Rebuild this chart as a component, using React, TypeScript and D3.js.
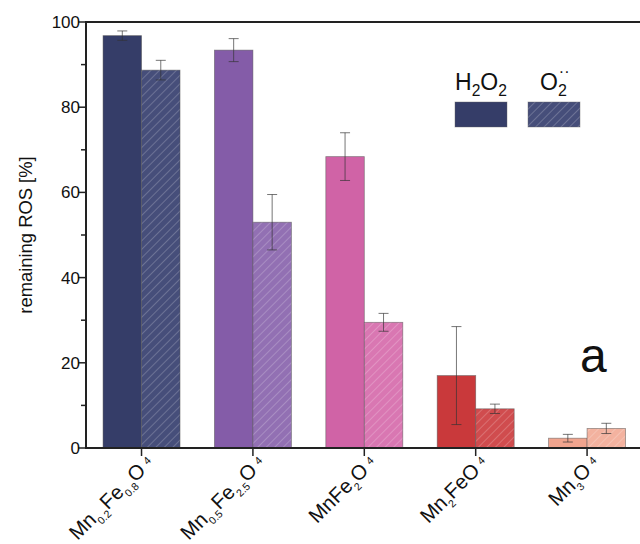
import React from 'react'
import * as d3 from 'd3'

// formula labels, split into [text, kind] pieces (kind: '' | 'sub' | 'sup')
const categories = ['Mn0.2Fe0.8O4', 'Mn0.5Fe2.5O4', 'MnFe2O4', 'Mn2FeO4', 'Mn3O4']
const labelParts: [string, string][][] = [
  [['Mn', ''], ['0.2', 'sub'], ['Fe', ''], ['0.8', 'sub'], ['O', ''], ['4', 'sup']],
  [['Mn', ''], ['0.5', 'sub'], ['Fe', ''], ['2.5', 'sub'], ['O', ''], ['4', 'sup']],
  [['MnFe', ''], ['2', 'sub'], ['O', ''], ['4', 'sup']],
  [['Mn', ''], ['2', 'sub'], ['FeO', ''], ['4', 'sup']],
  [['Mn', ''], ['3', 'sub'], ['O', ''], ['4', 'sup']],
]
const h2o2Values = [96.8, 93.4, 68.4, 17, 2.3]
const h2o2Errors = [1.1, 2.7, 5.6, 11.5, 0.9]
const superoxideValues = [88.7, 53, 29.5, 9.2, 4.6]
const superoxideErrors = [2.3, 6.5, 2.1, 1.1, 1.2]
const solidColors = ['#353d68', '#845ca8', '#d063a6', '#c9393b', '#f0a48e']
const hatchColors = ['#464e7a', '#9270b3', '#d977b2', '#d04c4e', '#f3b29f']
const yMajor = [0, 20, 40, 60, 80, 100]
const yMinor = [10, 30, 50, 70, 90]

const W = 640
const H = 544
const font = 'Liberation Sans, Arial, sans-serif'

function Formula({ parts, size, sub = 0.55 }: { parts: [string, string][]; size: number; sub?: number }) {
  return (
    <>
      {parts.map(([t, k], i) => {
        const prev = i > 0 ? parts[i - 1][1] : ''
        let dy = 0
        if (k === 'sub') dy = size * 0.28
        if (k === 'sup') dy = -size * 0.2
        if (prev === 'sub') dy -= size * 0.28
        if (prev === 'sup') dy += size * 0.2
        return (
          <tspan key={i} dy={dy} dx={k === 'sup' ? 5 : 0} fontSize={k ? size * sub : size}>{t}</tspan>
        )
      })}
    </>
  )
}

export default function App() {
  const left = 86
  const top = 22
  const bottom = 448
  const x = d3.scaleBand().domain(categories).range([left, 642.6]).paddingInner(0.309).paddingOuter(0.153)
  const y = d3.scaleLinear().domain([0, 100]).range([bottom, top])
  const bw = x.bandwidth() / 2

  const bars = categories.flatMap((c, i) => [
    { c, i, v: h2o2Values[i], e: h2o2Errors[i], x0: x(c)!, fill: solidColors[i] },
    { c, i, v: superoxideValues[i], e: superoxideErrors[i], x0: x(c)! + bw, fill: `url(#hatch${i})` },
  ])

  return (
    <svg width={W} height={H} style={{ position: 'absolute', left: 0, top: 0 }} fontFamily={font}>
      <defs>
        {hatchColors.map((col, i) => (
          <pattern key={i} id={`hatch${i}`} patternUnits="userSpaceOnUse" width={6} height={6} patternTransform="rotate(45)">
            <rect width={6} height={6} fill={col} />
            <line x1={0} y1={0} x2={0} y2={6} stroke="#fff" strokeOpacity={0.45} strokeWidth={0.9} />
          </pattern>
        ))}
      </defs>
      <rect width={W} height={H} fill="#fff" />

      {bars.map((b, k) => (
        <rect key={k} x={b.x0} y={y(b.v)} width={bw} height={y(0) - y(b.v)} fill={b.fill}
          stroke="#555" strokeOpacity={0.6} strokeWidth={0.8} />
      ))}
      {bars.map((b, k) => {
        const cx = b.x0 + bw / 2
        return (
          <g key={k} stroke="#333" strokeOpacity={0.75} strokeWidth={0.9}>
            <line x1={cx} x2={cx} y1={y(b.v + b.e)} y2={y(b.v - b.e)} />
            <line x1={cx - 5} x2={cx + 5} y1={y(b.v + b.e)} y2={y(b.v + b.e)} />
            <line x1={cx - 5} x2={cx + 5} y1={y(b.v - b.e)} y2={y(b.v - b.e)} />
          </g>
        )
      })}

      {/* frame */}
      <line x1={left} x2={W} y1={top} y2={top} stroke="#222" strokeWidth={2} />
      <line x1={left} x2={W} y1={bottom} y2={bottom} stroke="#222" strokeWidth={2} />
      <line x1={left} x2={left} y1={top - 1} y2={bottom + 1} stroke="#222" strokeWidth={2} />

      {yMajor.map(t => (
        <g key={t}>
          <line x1={left - 8} x2={left} y1={y(t)} y2={y(t)} stroke="#222" strokeWidth={1.5} />
          <text x={left - 6} y={y(t) + 6} textAnchor="end" fontSize={17} fill="#111">{t}</text>
        </g>
      ))}
      {yMinor.map(t => (
        <line key={t} x1={left - 5} x2={left} y1={y(t)} y2={y(t)} stroke="#222" strokeWidth={1.5} />
      ))}
      {categories.map((c, i) => {
        const cx = x(c)! + bw
        return (
          <g key={c}>
            <line x1={cx} x2={cx} y1={bottom} y2={bottom + 8} stroke="#222" strokeWidth={1.5} />
            <text transform={`translate(${cx + 13},${464}) rotate(-45)`} textAnchor="end" fontSize={20.5} fill="#111">
              <Formula parts={labelParts[i]} size={20.5} sub={0.52} />
            </text>
          </g>
        )
      })}

      <text transform={`translate(32,235) rotate(-90)`} textAnchor="middle" fontSize={18.4} fill="#111">remaining ROS [%]</text>

      {/* legend */}
      <text x={455} y={90} fontSize={23} fill="#111">
        <Formula parts={[['H', ''], ['2', 'sub'], ['O', ''], ['2', 'sub']]} size={23} sub={0.68} />
      </text>
      <rect x={455} y={102} width={52} height={25} fill={solidColors[0]} stroke="#666" strokeOpacity={0.5} strokeWidth={0.8} />
      <text x={540} y={90} fontSize={23} fill="#111">
        O
        <tspan dy={6} fontSize={16}>2</tspan>
        <tspan dx={-8} dy={-19} fontSize={16}>··</tspan>
      </text>
      <rect x={528} y={102} width={52} height={25} fill="url(#hatch0)" stroke="#666" strokeOpacity={0.5} strokeWidth={0.8} />

      <text x={580} y={372} fontSize={48} fill="#111">a</text>
    </svg>
  )
}
